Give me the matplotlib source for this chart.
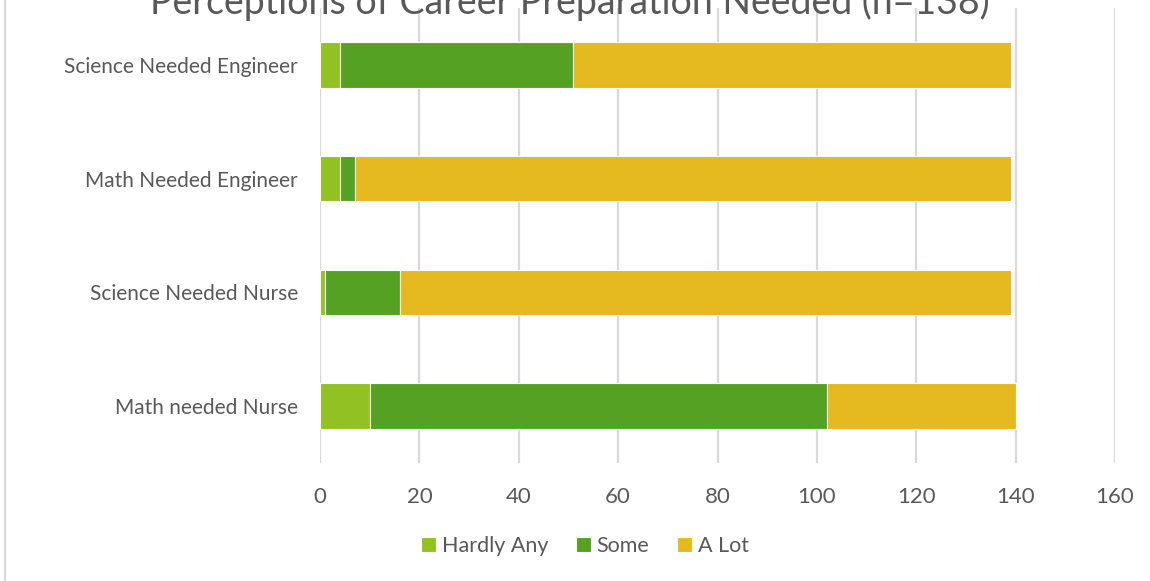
import numpy as np
import matplotlib
matplotlib.use('Agg')
import matplotlib.pyplot as plt
from matplotlib.lines import Line2D

plt.rcParams['font.family'] = ['Lato', 'DejaVu Sans']

# Data (bottom to top)
categories = ['Math needed Nurse', 'Science Needed Nurse', 'Math Needed Engineer', 'Science Needed Engineer']
hardly_any = [10, 1, 4, 4]
some = [92, 15, 3, 47]
a_lot = [38, 123, 132, 88]
series_names = ['Hardly Any', 'Some', 'A Lot']
colors = ['#92C124', '#54A123', '#E5B920']
x_ticks = [0, 20, 40, 60, 80, 100, 120, 140, 160]

text_color = '#595959'
grid_color = '#D9D9D9'

W, H = 1150, 581
fig = plt.figure(figsize=(W / 100, H / 100), dpi=100)
ax = fig.add_axes([320 / W, (H - 463) / H, (1115 - 320) / W, (463 - 8) / H])

y = np.arange(len(categories))
left = np.zeros(len(categories))
for vals, name, col in zip([hardly_any, some, a_lot], series_names, colors):
    ax.barh(y, vals, left=left, height=0.4, color=col, edgecolor='white',
            linewidth=0.8, label=name, zorder=3)
    left += np.array(vals)

ax.set_xlim(0, 160)
ax.set_ylim(-0.5, len(categories) - 0.5)
ax.set_xticks(x_ticks)
ax.set_yticks(y)
ax.set_yticklabels(categories)
ax.tick_params(axis='both', length=0, colors=text_color, labelsize=15)
ax.tick_params(axis='x', pad=17, labelsize=16)
ax.tick_params(axis='y', pad=16)
ax.xaxis.grid(True, color=grid_color, linewidth=1.6, zorder=0)
ax.set_axisbelow(True)
for s in ax.spines.values():
    s.set_visible(False)

# title (its upper part is cut off by the top edge, as in the reference)
fig.text(570 / W, (H - 14) / H, 'Perceptions of Career Preparation Needed (n=138)',
         ha='center', va='baseline', fontsize=27, color=text_color)

leg = fig.legend(loc='center', bbox_to_anchor=(585 / W, (H - 546) / H), ncol=3,
                 frameon=False, fontsize=15.5, handlelength=0.7, handleheight=0.7,
                 handletextpad=0.25, columnspacing=1.3, labelcolor=text_color)

# chart area left border
fig.add_artist(Line2D([4.5 / W, 4.5 / W], [0, 1], color='#D9D9D9', linewidth=1.5))

fig.savefig('out.png', dpi=100)
